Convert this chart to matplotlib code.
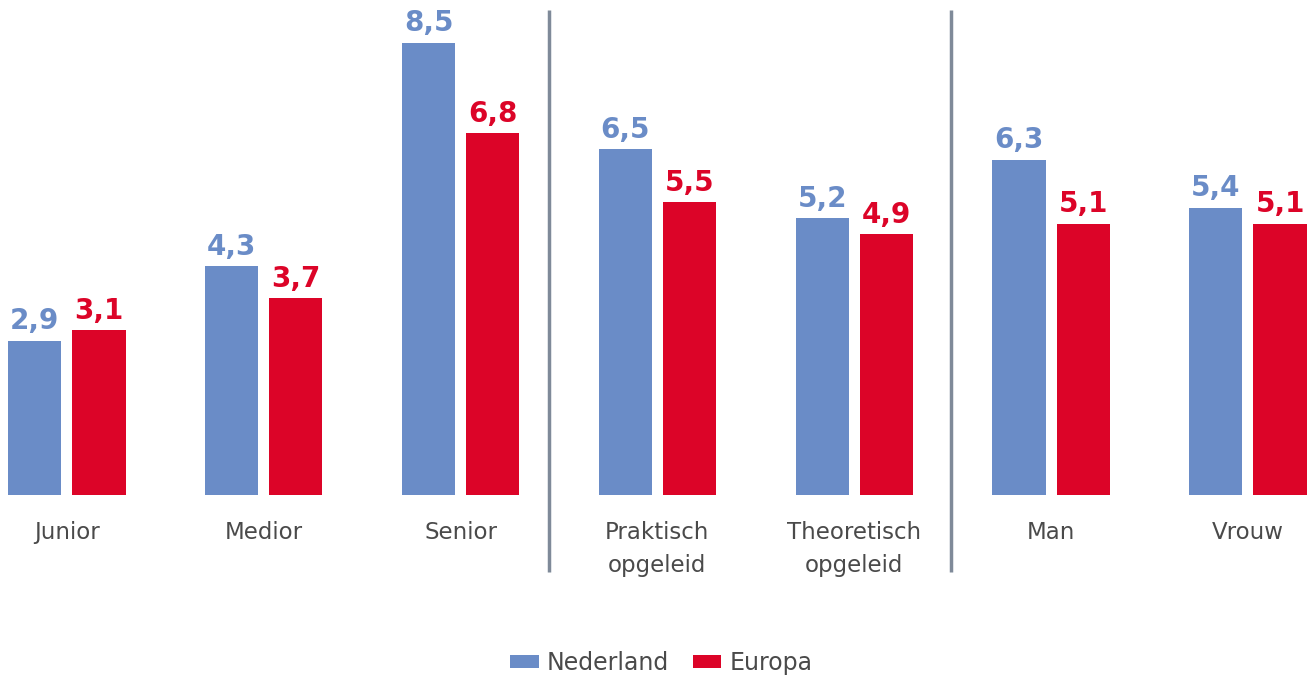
import matplotlib.pyplot as plt
import numpy as np

# data
categories = ["Junior", "Medior", "Senior", "Praktisch\nopgeleid",
              "Theoretisch\nopgeleid", "Man", "Vrouw"]
nederland = [2.9, 4.3, 8.5, 6.5, 5.2, 6.3, 5.4]
europa = [3.1, 3.7, 6.8, 5.5, 4.9, 5.1, 5.1]

blue = "#6a8cc7"
red = "#dc0428"
grey = "#4a4a4a"

fig = plt.figure(figsize=(13.07, 6.76), dpi=100)
ax = fig.add_axes([0, 0, 1, 1])
ax.set_xlim(-0.34, 6.30)
ax.set_ylim(-3.40, 9.30)
ax.axis("off")

x = np.arange(len(categories))
w = 0.27
off = 0.163

ax.bar(x - off, nederland, w, color=blue, label="Nederland")
ax.bar(x + off, europa, w, color=red, label="Europa")

for xi, v in zip(x, nederland):
    ax.text(xi - off, v + 0.1, f"{v:.1f}".replace(".", ","), ha="center", va="bottom",
            color=blue, fontsize=20, fontweight="bold")
for xi, v in zip(x, europa):
    ax.text(xi + off, v + 0.1, f"{v:.1f}".replace(".", ","), ha="center", va="bottom",
            color=red, fontsize=20, fontweight="bold")

for xi, c in zip(x, categories):
    ax.text(xi, -0.48, c, ha="center", va="top", color=grey, fontsize=16.5,
            linespacing=1.6)

# separators
for sx in [2.45, 4.49]:
    ax.plot([sx, sx], [-1.45, 9.11], color="#7f8a99", lw=2.5, solid_capstyle="butt")

leg = ax.legend(loc="lower center", bbox_to_anchor=(0.506, -0.03), ncol=2, frameon=False,
                fontsize=17, handlelength=1.2, handleheight=0.5, columnspacing=1.0,
                handletextpad=0.35)
for t in leg.get_texts():
    t.set_color(grey)

fig.savefig("out.png", dpi=100)
